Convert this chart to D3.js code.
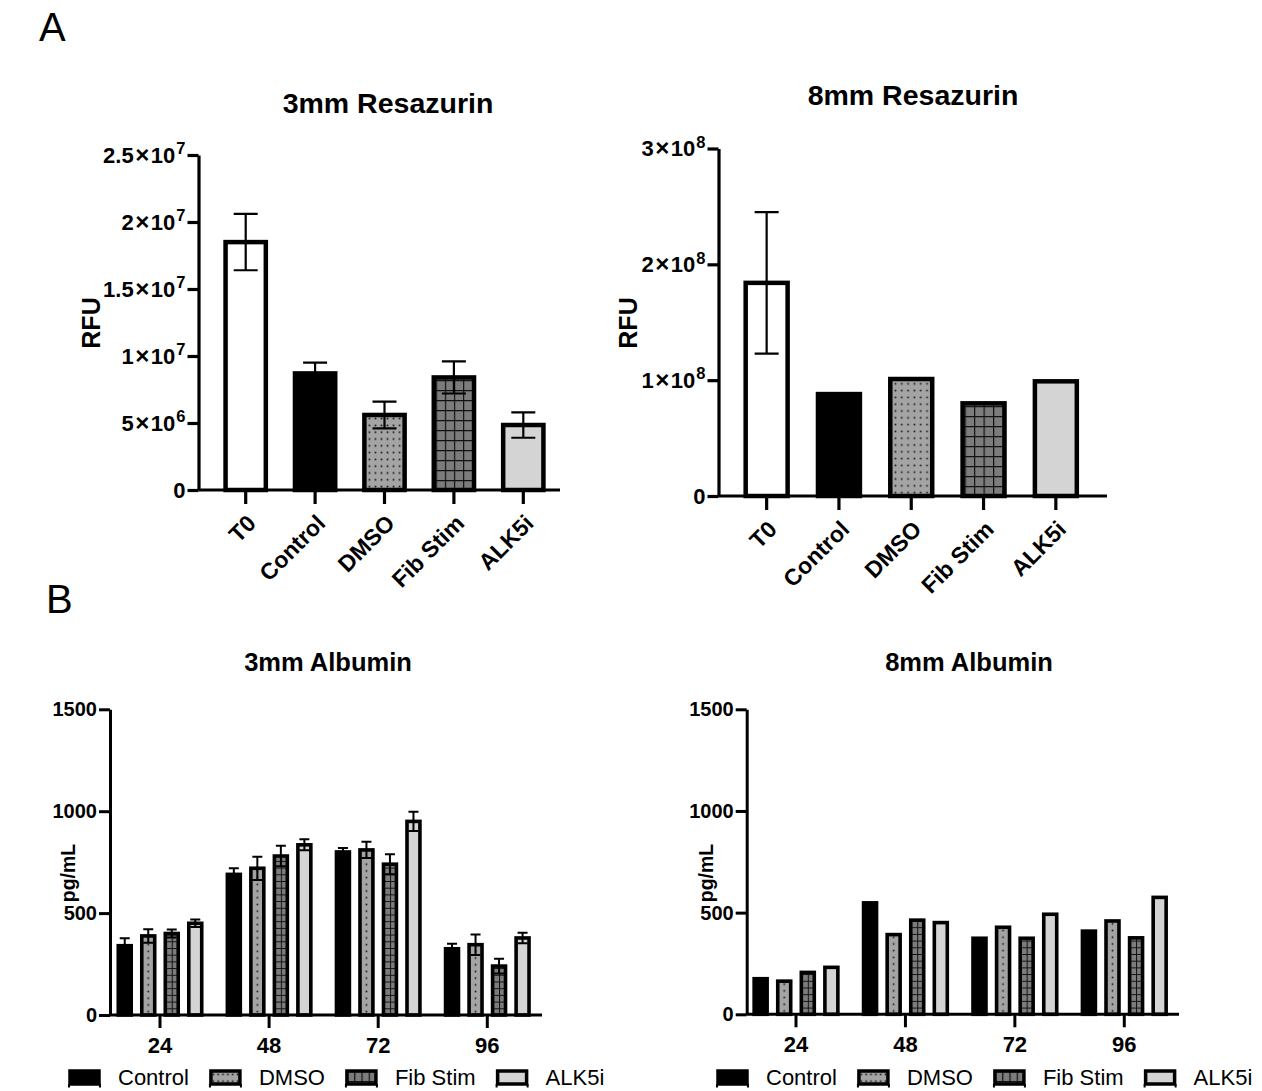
<!DOCTYPE html>
<html>
<head>
<meta charset="utf-8">
<script src="https://cdn.jsdelivr.net/npm/d3@7"></script>
<style>
  body { margin: 0; background: #fff; }
  text { font-family: "Liberation Sans", Arial, sans-serif; }
</style>
</head>
<body>
<div id="root"></div>
<script>
const SVG_WIDTH = 1262;
const SVG_HEIGHT = 1091;

// resazurin panels
const categories = ['T0', 'Control', 'DMSO', 'Fib Stim', 'ALK5i'];
const res3Mean = [1.85e7, 8.7e6, 5.6e6, 8.4e6, 4.85e6];
const res3Err = [2.1e6, 8e5, 1.0e6, 1.2e6, 9.5e5];
const res3Ticks = [0, 5e6, 1e7, 1.5e7, 2e7, 2.5e7];
const res8Mean = [1.84e8, 0.88e8, 1.01e8, 0.8e8, 0.99e8];
const res8Err = [0.61e8, null, null, null, null];
const res8Ticks = [0, 1e8, 2e8, 3e8];

// albumin panels
const timepoints = ['24', '48', '72', '96'];
const series = ['Control', 'DMSO', 'Fib Stim', 'ALK5i'];
const alb3Control = [340, 690, 800, 325];
const alb3Dmso = [388, 720, 810, 345];
const alb3Fib = [400, 780, 740, 240];
const alb3Alk = [450, 835, 950, 378];
const alb3ControlErr = [37, 30, 20, 25];
const alb3DmsoErr = [33, 57, 40, 50];
const alb3FibErr = [20, 50, 49, 36];
const alb3AlkErr = [18, 27, 47, 26];
const alb8Control = [175, 548, 374, 409];
const alb8Dmso = [163, 392, 428, 459];
const alb8Fib = [206, 463, 374, 376];
const alb8Alk = [231, 451, 492, 575];
const albTicks = [0, 500, 1000, 1500];

const FILL = { T0: '#ffffff', Control: '#000000', DMSO: '#a4a4a4', 'Fib Stim': '#7c7c7c', ALK5i: '#d4d4d4' };
const FONT = '"Liberation Sans", Arial, sans-serif';

let patId = 0;

function addSvg() {
  const svg = document.createElementNS('http://www.w3.org/2000/svg', 'svg');
  svg.id = 'svg';
  svg.setAttribute('width', SVG_WIDTH);
  svg.setAttribute('height', SVG_HEIGHT);
  return svg;
}

/**
 * pattern for one bar, aligned to its left edge
 */
function barFill(defs, name, x, y, w, small) {
  if (name !== 'DMSO' && name !== 'Fib Stim') return FILL[name];
  const id = 'pat' + (patId++);
  const p = defs.append('pattern').attr('id', id).attr('patternUnits', 'userSpaceOnUse').attr('x', x).attr('y', y);
  if (name === 'DMSO') {
    const cw = small ? w : w / 6;
    const ch = small ? 6.7 : 6.8;
    p.attr('width', cw).attr('height', ch);
    p.append('rect').attr('width', cw).attr('height', ch).attr('fill', FILL.DMSO);
    p.append('rect').attr('x', cw / 2 - 0.8).attr('y', ch / 2 - 0.8).attr('width', 1.6).attr('height', 1.6).attr('fill', '#111');
  } else {
    const cw = small ? w / 2 : w / 4;
    const ch = small ? 6.7 : 10;
    p.attr('width', cw).attr('height', ch);
    p.append('rect').attr('width', cw).attr('height', ch).attr('fill', FILL['Fib Stim']);
    p.append('path').attr('d', `M0,0 H${cw} M0,0 V${ch}`).attr('stroke', '#111').attr('stroke-width', small ? 2 : 2.4).attr('fill', 'none');
  }
  return `url(#${id})`;
}

function sciLabel(sel) {
  sel.each(function (d) {
    const t = d3.select(this);
    t.text(null);
    if (d === 0) { t.text('0'); return; }
    const e = Math.floor(Math.log10(d));
    const m = +(d / Math.pow(10, e)).toFixed(1);
    t.append('tspan').text(m);
    t.append('tspan').attr('dx', 1.5).attr('font-size', '1.1em').text('×');
    t.append('tspan').attr('dx', 1.5).text('10');
    t.append('tspan').attr('dy', '-0.5em').attr('dx', 1).attr('font-size', '0.75em').text(e);
  });
}

function drawTitle(svg, txt, x, y, size) {
  svg.append('text').attr('x', x).attr('y', y).attr('text-anchor', 'middle')
    .attr('font-size', size).attr('font-weight', 'bold').text(txt);
}

function drawYLabel(svg, txt, x, y, size) {
  svg.append('text').attr('transform', `translate(${x},${y}) rotate(-90)`).attr('text-anchor', 'middle')
    .attr('font-size', size).attr('font-weight', 'bold').text(txt);
}

function styleAxis(g, width) {
  g.selectAll('line').attr('stroke', '#000').attr('stroke-width', width);
  g.selectAll('path').attr('stroke', '#000').attr('stroke-width', width);
}

/**
 * resazurin bar chart
 */
function drawResazurin(svg, defs, o) {
  const y = d3.scaleLinear().domain([0, o.max]).range([o.y0, o.y1]);
  const x = d3.scaleBand().domain(categories).range(o.xr).paddingInner(0.42).paddingOuter(0.21);
  const g = svg.append('g');
  const bw = x.bandwidth();

  categories.forEach((c, i) => {
    const top = y(o.mean[i]);
    g.append('rect')
      .attr('x', x(c)).attr('y', top).attr('width', bw).attr('height', y(0) - top)
      .attr('fill', barFill(defs, c, x(c) + 2, y(0), bw - 4, false))
      .attr('stroke', '#000').attr('stroke-width', 4.5);
    if (o.err[i] != null) {
      const cx = x(c) + bw / 2;
      const hi = y(o.mean[i] + o.err[i]);
      const lo = y(o.mean[i] - o.err[i]);
      g.append('path')
        .attr('d', `M${cx},${hi} V${lo} M${cx - 12},${hi} H${cx + 12} M${cx - 12},${lo} H${cx + 12}`)
        .attr('stroke', '#000').attr('stroke-width', 2.2).attr('fill', 'none');
    }
  });

  const ya = svg.append('g').attr('transform', `translate(${o.axisX},0)`)
    .call(d3.axisLeft(y).tickValues(o.ticks).tickSize(11).tickSizeOuter(0).tickPadding(2));
  styleAxis(ya, 3.2);
  ya.selectAll('text').attr('font-size', 22).attr('font-weight', 'bold').attr('fill', '#000')
    .attr('font-family', FONT).call(sciLabel);

  const xa = svg.append('g').attr('transform', `translate(0,${o.y0})`)
    .call(d3.axisBottom(x).tickSize(14).tickSizeOuter(0));
  xa.select('.domain').remove();
  xa.append('line').attr('x1', o.axisX).attr('x2', o.xEnd).attr('y1', 0).attr('y2', 0);
  styleAxis(xa, 3.2);
  xa.selectAll('text').attr('font-size', 23).attr('font-weight', 'bold').attr('fill', '#000')
    .attr('font-family', FONT)
    .attr('text-anchor', 'end').attr('x', 0).attr('y', 0).attr('dy', '0.35em')
    .attr('transform', 'translate(6,29) rotate(-45)');
}

/**
 * grouped albumin bar chart
 */
function drawAlbumin(svg, defs, o) {
  const y = d3.scaleLinear().domain([0, 1500]).range([o.y0, o.y1]);
  const x = d3.scaleBand().domain(timepoints).range(o.xr).paddingInner(0.138).paddingOuter(0.069);
  const xs = d3.scaleBand().domain(series).range([0, x.bandwidth()]).paddingInner(0.45).paddingOuter(0.225);
  const g = svg.append('g');
  const bw = xs.bandwidth();

  series.forEach((s, j) => {
    timepoints.forEach((t, i) => {
      const v = o.values[j][i];
      const bx = x(t) + xs(s);
      const top = y(v);
      g.append('rect')
        .attr('x', bx).attr('y', top).attr('width', bw).attr('height', y(0) - top)
        .attr('fill', barFill(defs, s, bx, y(0), bw, true))
        .attr('stroke', '#000').attr('stroke-width', 3.6);
      if (o.errs) {
        const e = o.errs[j][i];
        const cx = bx + bw / 2;
        const hi = y(v + e);
        const lo = y(v - e);
        g.append('path')
          .attr('d', `M${cx},${hi} V${lo} M${cx - 5},${hi} H${cx + 5} M${cx - 5},${lo} H${cx + 5}`)
          .attr('stroke', '#000').attr('stroke-width', 2).attr('fill', 'none');
      }
    });
  });

  const ya = svg.append('g').attr('transform', `translate(${o.axisX},0)`)
    .call(d3.axisLeft(y).tickValues(albTicks).tickFormat(d3.format('d')).tickSize(11).tickSizeOuter(0).tickPadding(2));
  styleAxis(ya, 3);
  ya.selectAll('text').attr('font-size', 20).attr('font-weight', 'bold').attr('fill', '#000')
    .attr('font-family', FONT);

  const xa = svg.append('g').attr('transform', `translate(0,${o.y0})`)
    .call(d3.axisBottom(x).tickSize(13).tickSizeOuter(0).tickPadding(9));
  xa.select('.domain').remove();
  xa.append('line').attr('x1', o.axisX).attr('x2', o.xEnd).attr('y1', 0).attr('y2', 0);
  styleAxis(xa, 3);
  xa.selectAll('text').attr('font-size', 22).attr('font-weight', 'bold').attr('fill', '#000')
    .attr('font-family', FONT);
}

function drawLegend(svg, defs, x0, y0) {
  let x = x0;
  series.forEach((s) => {
    const g = svg.append('g');
    g.append('rect').attr('x', x).attr('y', y0).attr('width', 29).attr('height', 13)
      .attr('fill', barFill(defs, s, x, y0, 29, false)).attr('stroke', '#000').attr('stroke-width', 3.5);
    g.append('path').attr('d', `M${x - 1},${y0 + 13} v3.5 M${x + 30},${y0 + 13} v3.5`)
      .attr('stroke', '#000').attr('stroke-width', 2);
    const t = g.append('text').attr('x', x + 48).attr('y', y0 + 14).attr('font-size', 22).text(s);
    x += 48 + t.node().getComputedTextLength() + 22;
  });
}

function main() {
  const svg = d3.select('#svg');
  const defs = svg.append('defs');
  svg.append('rect').attr('width', SVG_WIDTH).attr('height', SVG_HEIGHT).attr('fill', '#fff');

  svg.append('text').attr('x', 39).attr('y', 41).attr('font-size', 40).text('A');
  svg.append('text').attr('x', 46).attr('y', 613).attr('font-size', 40).text('B');

  drawTitle(svg, '3mm Resazurin', 388, 113, 28.5);
  drawTitle(svg, '8mm Resazurin', 913, 105, 28.5);
  drawTitle(svg, '3mm Albumin', 328, 671, 25.5);
  drawTitle(svg, '8mm Albumin', 969, 671, 25.5);

  drawYLabel(svg, 'RFU', 100, 323, 25);
  drawYLabel(svg, 'RFU', 637, 323, 25);
  drawYLabel(svg, 'pg/mL', 75, 873, 19.5);
  drawYLabel(svg, 'pg/mL', 713, 873, 19.5);

  drawResazurin(svg, defs, {
    mean: res3Mean, err: res3Err, ticks: res3Ticks, max: 2.5e7,
    y0: 490, y1: 155, axisX: 198.5, xr: [211, 558], xEnd: 560,
  });
  drawResazurin(svg, defs, {
    mean: res8Mean, err: res8Err, ticks: res8Ticks, max: 3e8,
    y0: 496, y1: 148.5, axisX: 718.5, xr: [730.5, 1092], xEnd: 1107,
  });

  drawAlbumin(svg, defs, {
    values: [alb3Control, alb3Dmso, alb3Fib, alb3Alk],
    errs: [alb3ControlErr, alb3DmsoErr, alb3FibErr, alb3AlkErr],
    y0: 1015, y1: 709.3, axisX: 110, xr: [105.45, 541.85], xEnd: 542,
  });
  drawAlbumin(svg, defs, {
    values: [alb8Control, alb8Dmso, alb8Fib, alb8Alk],
    errs: null,
    y0: 1014.3, y1: 709.3, axisX: 746.7, xr: [741.3, 1179], xEnd: 1179,
  });

  drawLegend(svg, defs, 70, 1071);
  drawLegend(svg, defs, 718, 1071);
}

const root = document.getElementById('root');
root.appendChild(addSvg());
main();
</script>
</body>
</html>
